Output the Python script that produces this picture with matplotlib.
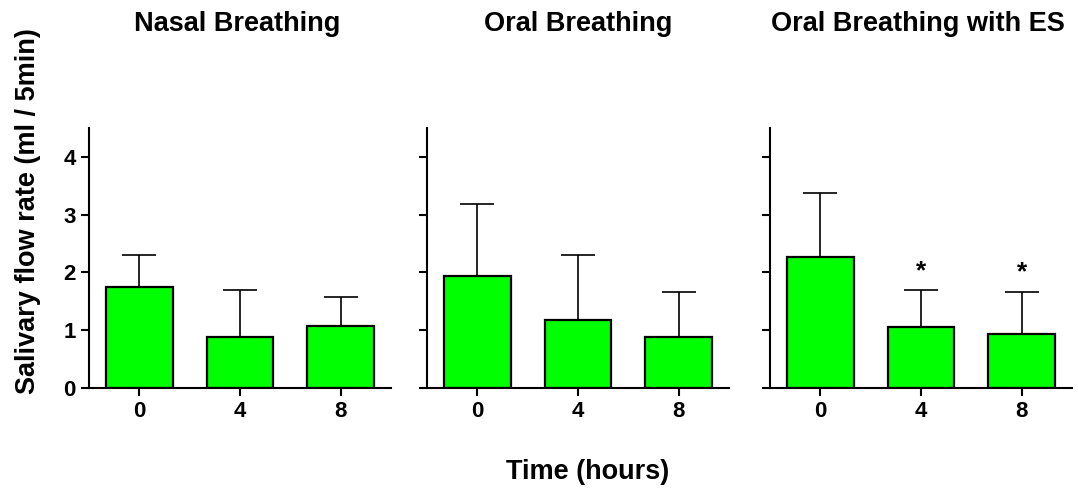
import matplotlib
matplotlib.use("Agg")
import matplotlib.pyplot as plt

plt.rcParams['font.family'] = ['Liberation Sans', 'DejaVu Sans']
plt.rcParams['font.weight'] = 'bold'

titles = ["Nasal Breathing", "Oral Breathing", "Oral Breathing with ES"]
time_labels = ["0", "4", "8"]
means = [
    [1.75, 0.88, 1.08],
    [1.93, 1.17, 0.89],
    [2.26, 1.05, 0.94],
]
errors = [
    [0.56, 0.82, 0.50],
    [1.26, 1.13, 0.78],
    [1.11, 0.64, 0.73],
]
significant = [
    [False, False, False],
    [False, False, False],
    [False, True, True],
]

fig = plt.figure(figsize=(10.78, 4.95), dpi=100)
W = 1078.0
H = 495.0
lefts = [89 / W, 427 / W, 770 / W]
title_x = [237, 578, 918]
bottom = 1 - 388 / H
height = (388 - 128) / H
width = 302 / W

for i in range(3):
    ax = fig.add_axes([lefts[i], bottom, width, height])
    x = list(range(len(time_labels)))
    ax.bar(x, means[i], width=0.66, color='#00FF00', edgecolor='black',
           linewidth=1.6, zorder=2)
    ax.errorbar(x, means[i], yerr=[[0] * 3, errors[i]], fmt='none',
                ecolor='black', elinewidth=1.2, capsize=12, capthick=1.2,
                zorder=1)
    for j in range(3):
        if significant[i][j]:
            ax.text(x[j], means[i][j] + errors[i][j] + 0.33, '*',
                    ha='center', va='center', fontsize=19, fontweight='bold')
    ax.set_xlim(-0.5, 2.5)
    ax.set_ylim(0, 4.5)
    ax.set_yticks([0, 1, 2, 3, 4])
    ax.set_xticks(x)
    ax.set_xticklabels(time_labels)
    for s in ['top', 'right']:
        ax.spines[s].set_visible(False)
    for s in ['left', 'bottom']:
        ax.spines[s].set_linewidth(1.5)
    ax.tick_params(axis='both', width=1.5, length=6, labelsize=16)
    for lab in ax.get_xticklabels() + ax.get_yticklabels():
        lab.set_fontweight('bold')
    if i > 0:
        ax.set_yticklabels([])
    fig.text(title_x[i] / W, 1 - 24 / H, titles[i], ha='center', va='center',
             fontsize=19.5, fontweight='bold')

fig.text(588 / W, 1 - 472 / H, "Time (hours)", ha='center', va='center',
         fontsize=19.5, fontweight='bold')
fig.text(28 / W, 1 - 211 / H, "Salivary flow rate (ml / 5min)", ha='center',
         va='center', rotation=90, fontsize=19.5, fontweight='bold')

fig.savefig("out.png", dpi=100)
